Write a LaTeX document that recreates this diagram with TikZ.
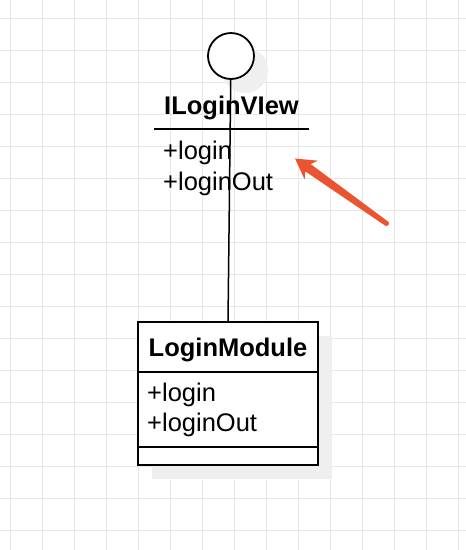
\documentclass[tikz,border=0pt]{standalone}
\usepackage{fontspec}
\setmainfont{Liberation Sans}
\usetikzlibrary{positioning,calc,backgrounds}
\definecolor{ink}{HTML}{000000}
\definecolor{gridline}{HTML}{E8E8E8}
\definecolor{shadowgray}{HTML}{EFEFEF}
\definecolor{pointer}{HTML}{EA5430}
\tikzset{
  every node/.style={text=ink,font=\fontsize{25.5}{31}\selectfont},
  iface/.style={circle,draw=ink,line width=1.8pt,fill=white,minimum size=46pt,inner sep=0pt},
  classpart/.style={draw=ink,line width=2pt,fill=white,minimum width=180pt,outer sep=0pt,inner sep=0pt},
  titletext/.style={font=\fontsize{25.5}{31}\selectfont\bfseries},
  member/.style={anchor=base west,inner sep=0pt},
  link/.style={draw=ink,line width=1.5pt},
  divider/.style={draw=ink,line width=2pt},
  gridrule/.style={draw=gridline,line width=0.8pt},
}

\begin{document}
\begin{tikzpicture}[x=1pt,y=-1pt]

\useasboundingbox (0,0) rectangle (466,550);

% background grid
\begin{scope}[on background layer]
\foreach \gx in {10.5,42.5,...,458.5}
  \draw[gridrule] (\gx,0) -- (\gx,550);
\foreach \gy in {18,50,...,530}
  \draw[gridrule] (0,\gy) -- (466,\gy);
\end{scope}

% interface lollipop
\node[iface] (iface) at (231,56) {};
\node[titletext,anchor=base] (ifacename) at (231.5,114) {ILoginVIew};
\coordinate (divleft) at (154,129);
\coordinate (divright) at (309,129);
\draw[divider] (divleft) -- (divright);
\node[member] (ifacelogin) at (163,159) {+login};
\node[member] (ifacelogout) at (163,190) {+loginOut};

% class box
\node[classpart,titletext,minimum height=50pt,text height=18pt,text depth=0pt] (modtitle) at (228,347) {LoginModule};
\node[classpart,minimum height=75pt,below=0pt of modtitle] (modattrs) {};
\node[classpart,minimum height=18pt,below=0pt of modattrs] (modextra) {};
\node[member] (modlogin) at (147,401) {+login};
\node[member] (modlogout) at (147,431) {+loginOut};

% shadows
\begin{scope}[on background layer]
\fill[shadowgray] ([shift={(14,14)}]iface.center) circle (23pt);
\fill[shadowgray] ([shift={(14,14)}]modtitle.north west) rectangle ([shift={(14,14)}]modextra.south east);
\end{scope}

\draw[link] (iface) -- (modtitle.north);

% red pointer
\coordinate (arrowtip) at (295,158.5);
\coordinate (arrowtail) at (386.5,223.5);
\coordinate (headbase) at ($(arrowtip)!20pt!(arrowtail)$);
\coordinate (neck) at ($(arrowtip)!16pt!(arrowtail)$);
\fill[pointer] (arrowtip)
  -- ($(headbase)!11.5pt!90:(arrowtail)$)
  -- ($(neck)!4.5pt!90:(arrowtail)$)
  -- ($(arrowtail)!2.5pt!-90:(arrowtip)$)
  -- ($(arrowtail)!2.5pt!90:(arrowtip)$)
  -- ($(neck)!4.5pt!-90:(arrowtail)$)
  -- ($(headbase)!11.5pt!-90:(arrowtail)$)
  -- cycle;
\fill[pointer] (arrowtail) circle (2.5pt);

\end{tikzpicture}
\end{document}
